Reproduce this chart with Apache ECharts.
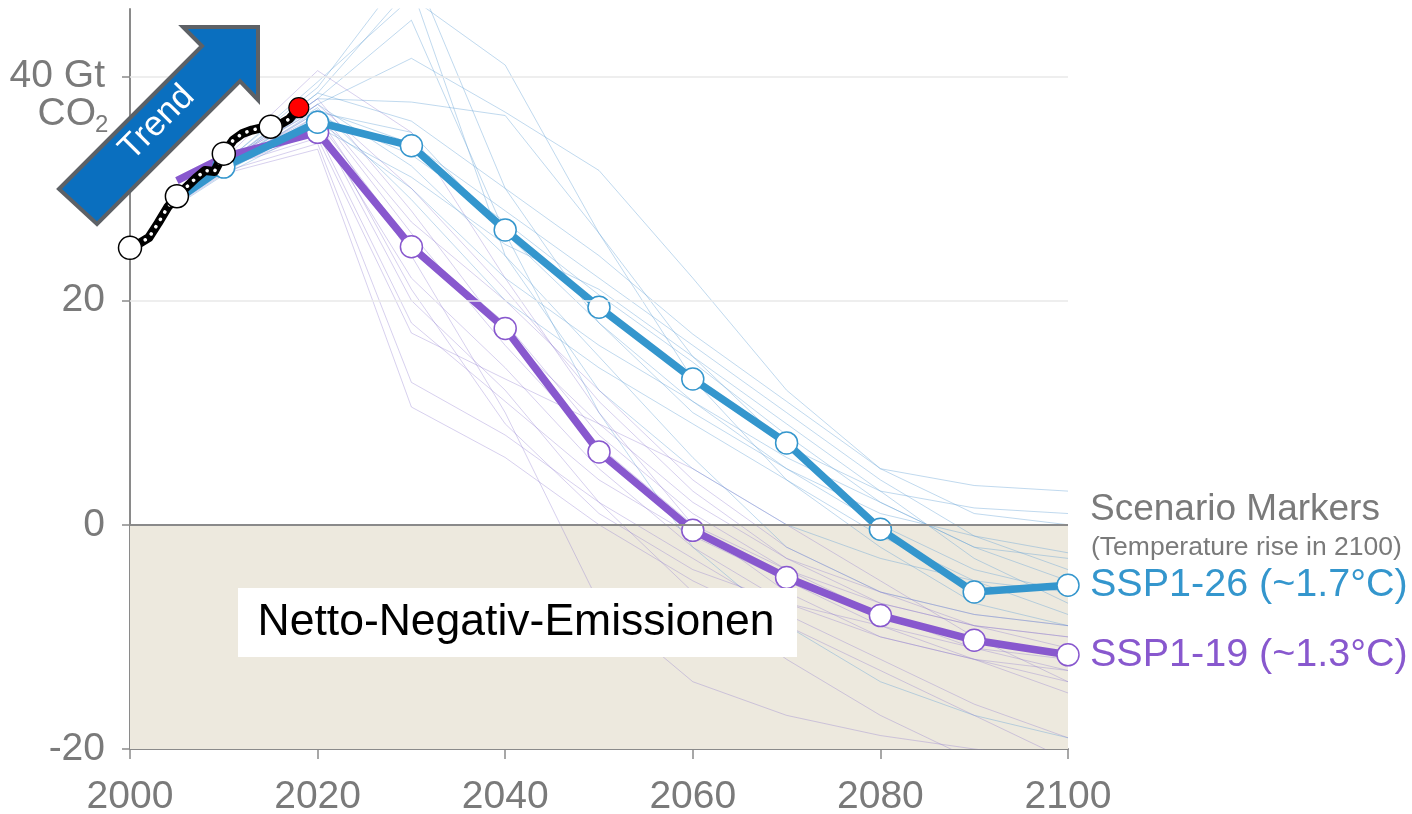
<!DOCTYPE html>
<html>
<head>
<meta charset="utf-8">
<script src="https://cdn.jsdelivr.net/npm/echarts@6/dist/echarts.min.js"></script>
<style>
html,body{margin:0;padding:0;background:#fff;}
#chart{width:1412px;height:814px;}
</style>
</head>
<body>
<div id="chart"></div>
<script>
// ---- data ----
const scenarioYears = [2005, 2010, 2020, 2030, 2040, 2050, 2060, 2070, 2080, 2090, 2100];
const ssp126 = [29.0, 31.9, 35.9, 33.8, 26.3, 19.4, 13.0, 7.3, -0.4, -6.0, -5.4];
const ssp119 = [30.7, 32.8, 35.0, 24.8, 17.5, 6.5, -0.5, -4.7, -8.1, -10.3, -11.6];
const ssp126MarkerYears = [2010, 2020, 2030, 2040, 2050, 2060, 2070, 2080, 2090, 2100];
const ssp119MarkerYears = [2020, 2030, 2040, 2050, 2060, 2070, 2080, 2090, 2100];

const histYears = [2000, 2001, 2002, 2003, 2004, 2005, 2006, 2007, 2008, 2009, 2010, 2011, 2012, 2013, 2014, 2015, 2016, 2017, 2018];
const histValues = [24.7, 25.1, 25.6, 26.9, 28.3, 29.3, 30.1, 30.9, 31.6, 31.5, 33.1, 34.3, 34.9, 35.2, 35.4, 35.5, 35.7, 36.2, 37.2];
const histMarkerYears = [2000, 2005, 2010, 2015];
const histLatestYear = 2018;

// other scenarios of the ensemble (thin lines)
const ensembleBlue = [
  [29.0, 31.8, 37.5, 41.6, 36.8, 31.6, 22.0, 12.0, 5.0, 3.5, 3.0],
  [29.2, 32.0, 38.0, 37.7, 36.5, 26.0, 15.0, 7.0, 3.0, 1.5, 1.0],
  [28.8, 31.5, 36.5, 33.0, 27.0, 20.5, 14.5, 8.0, 2.0, -2.0, -3.0],
  [29.5, 32.3, 39.0, 50.0, 30.0, 18.0, 10.0, 5.0, 1.0, -1.0, -2.5],
  [29.0, 32.0, 38.5, 48.0, 24.0, 12.0, 5.0, 0.0, -3.0, -5.0, -6.0],
  [28.5, 31.2, 35.5, 31.0, 25.0, 21.0, 15.0, 9.0, 3.0, -3.0, -7.0],
  [29.0, 31.6, 37.0, 34.0, 28.0, 22.0, 16.0, 10.0, 4.0, -1.0, -4.0],
  [29.3, 32.1, 38.5, 36.0, 30.0, 24.0, 17.0, 11.0, 5.0, 1.0, 0.0],
  [29.4, 32.2, 39.5, 47.0, 41.0, 26.0, 13.0, 4.0, -2.0, -7.0, -9.0],
  [28.7, 31.4, 36.0, 30.0, 22.0, 16.0, 11.0, 6.0, 2.0, -2.0, -5.0],
  [29.1, 31.9, 37.2, 29.0, 20.0, 14.0, 9.0, 4.0, -1.0, -5.0, -8.0],
  [29.0, 31.7, 36.8, 35.0, 26.0, 18.0, 11.0, 5.0, 0.0, -4.0, -6.0],
  [28.9, 31.6, 37.5, 32.0, 24.0, 15.0, 6.0, -2.0, -6.0, -8.0, -9.0],
  [29.2, 32.0, 38.0, 45.0, 26.0, 10.0, -2.0, -9.0, -14.0, -17.0, -19.0]
];
const ensembleViolet = [
  [29.5, 32.5, 36.0, 25.0, 18.0, 8.0, 1.0, -4.0, -8.0, -11.0, -13.0],
  [29.3, 32.2, 35.5, 22.0, 14.0, 5.0, -2.0, -7.0, -10.0, -12.0, -14.0],
  [29.0, 31.8, 35.0, 18.0, 11.0, 4.0, -1.0, -5.0, -9.0, -12.0, -15.0],
  [28.8, 31.5, 34.0, 12.7, 8.0, 2.0, -3.0, -8.0, -12.0, -16.0, -19.0],
  [28.6, 31.3, 33.5, 10.5, 6.0, 0.0, -5.0, -9.0, -13.0, -17.0, -21.0],
  [29.4, 32.4, 37.0, 27.0, 20.0, 12.0, 4.0, -2.0, -6.0, -9.0, -10.0],
  [29.1, 32.0, 36.5, 24.0, 10.0, -7.0, -14.0, -17.0, -18.8, -20.0, -21.0],
  [29.2, 32.1, 37.5, 30.0, 21.0, 11.0, 3.0, -3.0, -7.0, -9.0, -10.0],
  [29.0, 31.9, 36.8, 26.0, 16.0, 7.0, 0.0, -4.0, -7.0, -9.0, -11.0],
  [28.9, 31.7, 35.8, 20.0, 12.0, 2.0, -6.0, -12.0, -17.0, -21.0, -23.0],
  [29.3, 32.2, 38.0, 28.0, 17.0, 9.0, 2.0, -3.0, -6.0, -8.0, -9.0],
  [29.0, 31.9, 34.5, 17.1, 13.0, 9.0, 5.0, 0.0, -5.0, -10.0, -14.0],
  [29.2, 32.0, 36.2, 21.0, 9.0, 1.0, -4.0, -7.0, -9.0, -11.0, -12.0],
  [29.5, 32.6, 40.5, 35.0, 22.0, 10.0, 0.0, -6.0, -10.0, -12.0, -13.0]
];

const xTicks = [2000, 2020, 2040, 2060, 2080, 2100];
const yTicks = [-20, 0, 20, 40];
const gridLineValues = [20, 40];

// ---- chart ----
const FONT = '"Liberation Sans", Helvetica, Arial, sans-serif';
const BLUE = '#3496cd';
const VIOLET = '#8858ce';
const GREY = '#7a7a7a';

const chart = echarts.init(document.getElementById('chart'), null, {renderer: 'canvas'});

function pairs(xs, ys) { return xs.map((x, i) => [x, ys[i]]); }

const series = [];

// background: negative-emission area and grid lines
series.push({
  type: 'line', data: [], z: 0, silent: true, symbol: 'none',
  markArea: {
    silent: true,
    itemStyle: {color: '#ede9de'},
    data: [[{coord: [2000, 0]}, {coord: [2100, -20]}]]
  },
  markLine: {
    silent: true, symbol: 'none', label: {show: false},
    data: gridLineValues.map(v => ({yAxis: v, lineStyle: {color: '#e9e9e9', width: 1.5, type: 'solid'}}))
      .concat([{yAxis: 0, lineStyle: {color: '#8a8a8a', width: 2, type: 'solid'}}])
  }
});

ensembleBlue.forEach(vals => series.push({
  type: 'line', data: pairs(scenarioYears, vals), symbol: 'none', silent: true, z: 1,
  lineStyle: {width: 1, color: 'rgba(105,165,215,0.42)'}
}));
ensembleViolet.forEach(vals => series.push({
  type: 'line', data: pairs(scenarioYears, vals), symbol: 'none', silent: true, z: 1,
  lineStyle: {width: 1, color: 'rgba(140,120,205,0.35)'}
}));

function markerData(xs, ys, markerYears) {
  return xs.map((x, i) => {
    const show = markerYears.indexOf(x) >= 0;
    return {value: [x, ys[i]], symbol: show ? 'circle' : 'none', symbolSize: show ? 22 : 0};
  });
}

series.push({
  name: 'SSP1-19', type: 'line', z: 3,
  data: markerData(scenarioYears, ssp119, ssp119MarkerYears),
  lineStyle: {width: 7.5, color: VIOLET},
  itemStyle: {color: '#fff', borderColor: VIOLET, borderWidth: 1.5, opacity: 1},
  endLabel: {show: true, formatter: 'SSP1-19 (~1.3°C)', color: VIOLET, fontSize: 39.5, fontFamily: FONT, distance: 22}
});
series.push({
  name: 'SSP1-26', type: 'line', z: 4,
  data: markerData(scenarioYears, ssp126, ssp126MarkerYears),
  lineStyle: {width: 7.5, color: BLUE},
  itemStyle: {color: '#fff', borderColor: BLUE, borderWidth: 1.5, opacity: 1},
  endLabel: {show: true, formatter: 'SSP1-26 (~1.7°C)', color: BLUE, fontSize: 39.5, fontFamily: FONT, distance: 22}
});

// historical emissions: thick black line with white dots
series.push({
  type: 'line', z: 5, silent: true, symbol: 'none',
  data: pairs(histYears, histValues),
  lineStyle: {width: 9, color: '#000', join: 'round', cap: 'round'}
});
series.push({
  type: 'line', z: 6, silent: true, symbol: 'none',
  data: pairs(histYears, histValues),
  lineStyle: {width: 3.5, color: '#fff', type: [0.1, 8.5], cap: 'round'}
});
series.push({
  type: 'scatter', z: 7, silent: true,
  data: histYears.map((y, i) => [y, histValues[i]]).filter(p => histMarkerYears.indexOf(p[0]) >= 0),
  symbolSize: 23,
  itemStyle: {color: '#fff', borderColor: '#000', borderWidth: 1.5, opacity: 1}
});
series.push({
  type: 'scatter', z: 7, silent: true,
  data: histYears.map((y, i) => [y, histValues[i]]).filter(p => p[0] === histLatestYear),
  symbolSize: 20,
  itemStyle: {color: '#ff0000', borderColor: '#000', borderWidth: 1.2, opacity: 1}
});

// Trend arrow geometry (pixels)
const arrowPts = [[59, 189], [202, 46], [183, 27], [258, 27], [258, 100], [240, 81], [97, 224]];

const option = {
  animation: false,
  backgroundColor: '#fff',
  grid: {left: 130, right: 344, top: 9, bottom: 65, containLabel: false, outerBoundsMode: 'none'},
  xAxis: {
    type: 'value', min: 2000, max: 2100, interval: 20,
    axisLine: {show: true, onZero: false, lineStyle: {color: '#8a8a8a', width: 2}},
    axisTick: {show: true, length: 10, lineStyle: {color: '#8a8a8a', width: 1.5}},
    axisLabel: {color: GREY, fontSize: 39, fontFamily: FONT, margin: 29,
      formatter: v => xTicks.indexOf(v) >= 0 ? String(v) : ''},
    splitLine: {show: false}
  },
  yAxis: {
    type: 'value', min: -20, max: 46, interval: 20,
    axisLine: {show: true, onZero: false, lineStyle: {color: '#8a8a8a', width: 2}},
    axisTick: {show: true, length: 8, customValues: yTicks, lineStyle: {color: '#8a8a8a', width: 1.5}},
    axisLabel: {color: GREY, fontSize: 39, fontFamily: FONT, margin: 25, customValues: yTicks,
      formatter: v => v === 40 ? '40 Gt' : (yTicks.indexOf(v) >= 0 ? String(v) : '')},
    splitLine: {show: false}
  },
  series: series,
  graphic: [
    {type: 'text', z: 100, x: 96, y: 114, style: {text: 'CO', fill: GREY, font: '39px ' + FONT, align: 'right', verticalAlign: 'middle'}},
    {type: 'text', z: 100, x: 95, y: 125, style: {text: '2', fill: GREY, font: '24px ' + FONT, align: 'left', verticalAlign: 'middle'}},
    {type: 'polygon', z: 100, shape: {points: arrowPts},
      style: {fill: '#0a6fbf', stroke: '#5d6166', lineWidth: 4, lineJoin: 'miter'}},
    {type: 'text', z: 101, x: 157, y: 123, rotation: Math.PI / 4,
      style: {text: 'Trend', fill: '#fff', font: '35px ' + FONT, align: 'center', verticalAlign: 'middle'}},
    {type: 'rect', z: 100, shape: {x: 238, y: 588, width: 559, height: 69}, style: {fill: '#fff'}},
    {type: 'text', z: 101, x: 516, y: 623,
      style: {text: 'Netto-Negativ-Emissionen', fill: '#000', font: '44.5px ' + FONT, align: 'center', verticalAlign: 'middle'}},
    {type: 'text', z: 100, x: 1090, y: 510,
      style: {text: 'Scenario Markers', fill: GREY, font: '37px ' + FONT, align: 'left', verticalAlign: 'middle'}},
    {type: 'text', z: 100, x: 1091, y: 548,
      style: {text: '(Temperature rise in 2100)', fill: GREY, font: '26.5px ' + FONT, align: 'left', verticalAlign: 'middle'}}
  ]
};

chart.setOption(option);
</script>
</body>
</html>
